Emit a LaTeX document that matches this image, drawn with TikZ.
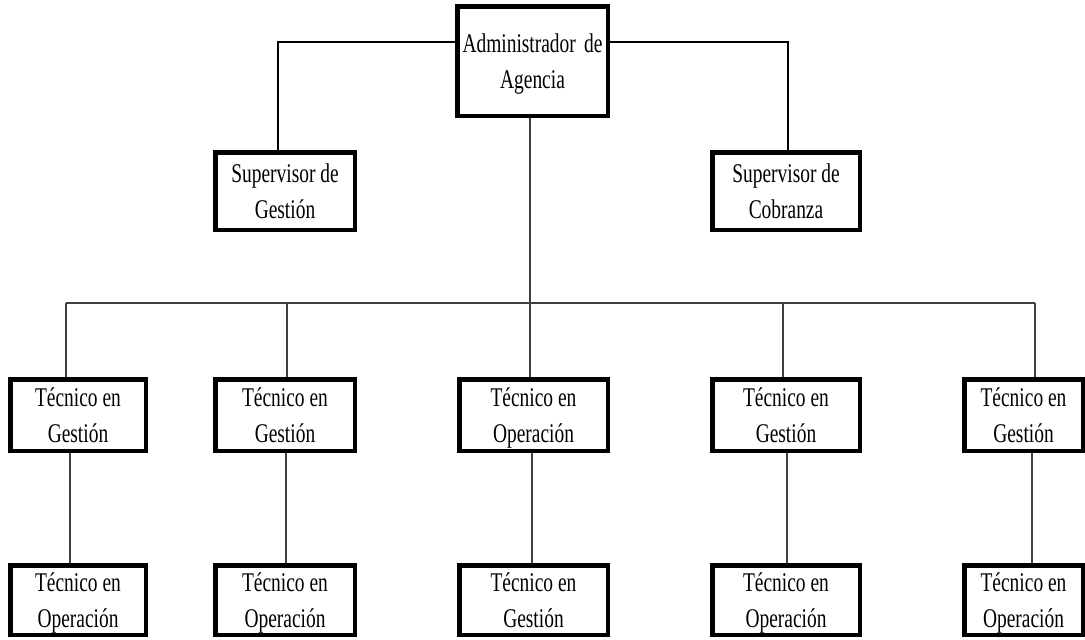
\documentclass[tikz,border=0pt]{standalone}
\usepackage{fontspec}
\setmainfont[FakeStretch=0.72]{Liberation Serif}
\newcommand{\nodepth}[1]{\raisebox{0pt}[\height][0pt]{#1}}
\begin{document}
\begin{tikzpicture}[x=1pt,y=1pt,
  orgbox/.style={draw=black, line width=4.5pt, inner sep=0pt, align=center,
    font=\fontsize{27}{36}\selectfont},
  conn/.style={draw=black!75, line width=1.5pt},
  topconn/.style={draw=black, line width=1.5pt}]
\useasboundingbox (0,0) rectangle (1085,-640);
% top level
\node[orgbox, minimum width=150.5pt, minimum height=109.5pt] (adm) at (532.5,-61)
  {\makebox[140pt][s]{Administrador de}\\\nodepth{Agencia}};
\node[orgbox, minimum width=139.5pt, minimum height=77.5pt] (sg) at (285,-191)
  {Supervisor de\\Gesti\'on};
\node[orgbox, minimum width=147.5pt, minimum height=77.5pt] (sc) at (786,-191)
  {Supervisor de\\Cobranza};
% second row
\node[orgbox, minimum width=135.5pt, minimum height=71.5pt] (t1) at (78,-415) {T\'ecnico en\\Gesti\'on};
\node[orgbox, minimum width=139.5pt, minimum height=71.5pt] (t2) at (285,-415) {T\'ecnico en\\Gesti\'on};
\node[orgbox, minimum width=148.5pt, minimum height=71.5pt] (t3) at (533.5,-415) {T\'ecnico en\\\nodepth{Operaci\'on}};
\node[orgbox, minimum width=147.5pt, minimum height=71.5pt] (t4) at (786,-415) {T\'ecnico en\\Gesti\'on};
\node[orgbox, minimum width=118.5pt, minimum height=71.5pt] (t5) at (1023.5,-415) {T\'ecnico en\\Gesti\'on};
% third row
\node[orgbox, minimum width=135.5pt, minimum height=69.5pt] (o1) at (78,-600) {T\'ecnico en\\\nodepth{Operaci\'on}};
\node[orgbox, minimum width=139.5pt, minimum height=69.5pt] (o2) at (285,-600) {T\'ecnico en\\\nodepth{Operaci\'on}};
\node[orgbox, minimum width=148.5pt, minimum height=69.5pt] (o3) at (533.5,-600) {T\'ecnico en\\Gesti\'on};
\node[orgbox, minimum width=147.5pt, minimum height=69.5pt] (o4) at (786,-600) {T\'ecnico en\\\nodepth{Operaci\'on}};
\node[orgbox, minimum width=118.5pt, minimum height=69.5pt] (o5) at (1023.5,-600) {T\'ecnico en\\\nodepth{Operaci\'on}};
% bus coordinates
\coordinate (busL) at (66,-303);
\coordinate (busR) at (1035,-303);
\coordinate (busEnd) at (530,-312);
% top connectors
\draw[topconn] (adm.west |- 0,-42) -| ([xshift=-7pt]sg.north);
\draw[topconn] (adm.east |- 0,-42) -| ([xshift=2pt]sc.north);
\draw[conn] ([xshift=-2.5pt]adm.south) -- (busEnd);
\draw[conn] (busL) -- (busR);
% drops to second row
\draw[conn] ([xshift=-12pt]t1.north) -- ([xshift=-12pt]t1.north |- busL);
\draw[conn] ([xshift=2pt]t2.north) -- ([xshift=2pt]t2.north |- busL);
\draw[conn] ([xshift=-3.5pt]t3.north) -- ([xshift=-3.5pt]t3.north |- busL);
\draw[conn] ([xshift=-3pt]t4.north) -- ([xshift=-3pt]t4.north |- busL);
\draw[conn] ([xshift=11.5pt]t5.north) -- ([xshift=11.5pt]t5.north |- busL);
% second to third row
\draw[conn] ([xshift=-8pt]t1.south) -- ([xshift=-8pt]o1.north);
\draw[conn] ([xshift=1pt]t2.south) -- ([xshift=1pt]o2.north);
\draw[conn] ([xshift=-1.5pt]t3.south) -- ([xshift=-1.5pt]o3.north);
\draw[conn] ([xshift=1pt]t4.south) -- ([xshift=1pt]o4.north);
\draw[conn] ([xshift=8.5pt]t5.south) -- ([xshift=8.5pt]o5.north);
\end{tikzpicture}
\end{document}
